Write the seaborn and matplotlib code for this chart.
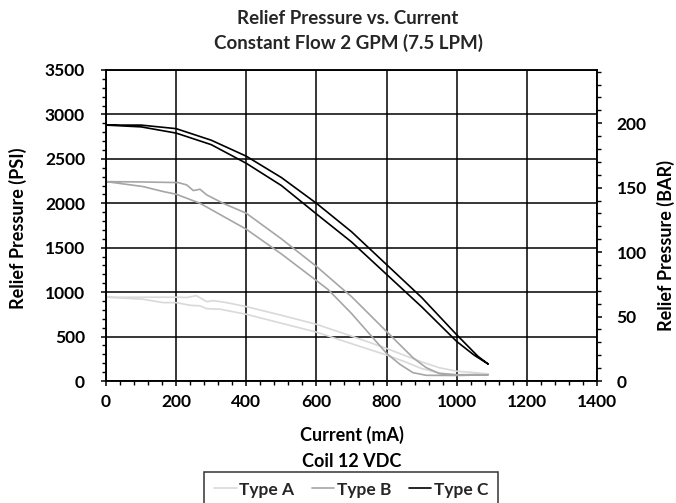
import matplotlib
matplotlib.use("Agg")
import matplotlib.pyplot as plt
from matplotlib.ticker import MultipleLocator
from matplotlib.lines import Line2D
import seaborn as sns
import pandas as pd

# ---- data (hysteresis loops: out along one branch, back along the other) ----
type_a_current = [0, 106, 163, 200, 240, 268, 287, 325, 400, 500, 600, 700, 800, 850, 900, 950, 1000, 1090,
                  1050, 1000, 950, 900, 850, 800, 700, 600, 500, 400, 344, 306, 287, 258, 230, 200, 100, 0]
type_a_psi = [943, 920, 882, 882, 852, 846, 814, 808, 751, 650, 550, 420, 292, 220, 140, 90, 70, 80,
              95, 110, 150, 215, 290, 367, 505, 638, 740, 837, 882, 904, 893, 960, 940, 943, 943, 943]

type_b_current = [0, 106, 163, 200, 268, 400, 500, 600, 633, 700, 800, 838, 875, 913, 1000, 1090,
                  1000, 950, 913, 875, 800, 700, 676, 600, 500, 400, 334, 287, 268, 249, 230, 206, 100, 0]
type_b_psi = [2244, 2188, 2132, 2102, 2000, 1708, 1430, 1130, 1030, 760, 311, 188, 94, 64, 62, 70,
              70, 85, 150, 263, 557, 950, 1030, 1290, 1600, 1888, 2000, 2095, 2158, 2143, 2207, 2233, 2240, 2244]

type_c_current = [0, 100, 200, 300, 400, 500, 600, 700, 800, 900, 1000, 1050, 1090,
                  1060, 1000, 900, 800, 700, 600, 500, 400, 300, 200, 100, 0]
type_c_psi = [2880, 2860, 2790, 2660, 2450, 2200, 1880, 1565, 1200, 835, 445, 290, 190,
              280, 520, 940, 1310, 1680, 2000, 2290, 2530, 2710, 2840, 2880, 2880]

series_names = ["Type A", "Type B", "Type C"]
series_colors = ["#d9d9d9", "#a6a6a6", "#000000"]
x_ticks = [0, 200, 400, 600, 800, 1000, 1200, 1400]
psi_ticks = [0, 500, 1000, 1500, 2000, 2500, 3000, 3500]
bar_ticks = [0, 50, 100, 150, 200]
PSI_PER_BAR = 14.5038

frames = []
for name, cx, py in zip(series_names,
                        [type_a_current, type_b_current, type_c_current],
                        [type_a_psi, type_b_psi, type_c_psi]):
    frames.append(pd.DataFrame({"current": cx, "psi": py, "type": name}))
df = pd.concat(frames, ignore_index=True)

sns.set_theme(style="white")
plt.rcParams["font.family"] = ["Lato", "DejaVu Sans"]
plt.rcParams["font.weight"] = "bold"

W, H = 676, 503
fig = plt.figure(figsize=(W / 100, H / 100), dpi=100)
L, R, T, B = 106, 597, 70, 381
ax = fig.add_axes([L / W, 1 - B / H, (R - L) / W, (B - T) / H])

palette = dict(zip(series_names, series_colors))
for name in series_names:
    sub = df[df["type"] == name]
    sns.lineplot(data=sub, x="current", y="psi", color=palette[name], sort=False,
                 estimator=None, linewidth=1.2, ax=ax, legend=False)

ax.set_xlim(0, 1400)
ax.set_ylim(0, 3500)
ax.set_xticks(x_ticks)
ax.set_yticks(psi_ticks)
ax.xaxis.set_minor_locator(MultipleLocator(40))
ax.yaxis.set_minor_locator(MultipleLocator(100))
ax.grid(True, which="major", color="black", linewidth=1.1)
ax.set_axisbelow(True)
for s in ax.spines.values():
    s.set_color("black")
    s.set_linewidth(1.1)
ax.tick_params(axis="both", which="major", direction="out", length=3.6, width=1.1, color="black",
               labelsize=12.5, labelcolor="black", left=True, bottom=True)
ax.tick_params(axis="y", which="major", pad=11.5)
ax.tick_params(axis="x", which="major", pad=5.5)
ax.tick_params(axis="both", which="minor", direction="out", length=3.2, width=1.0, color="black",
               left=True, bottom=True)
for lbl in ax.get_xticklabels() + ax.get_yticklabels():
    lbl.set_fontweight("bold")

ax.set_xlabel("Current (mA)\nCoil 12 VDC", fontsize=13, fontweight="bold", color="black",
              linespacing=1.6)
ax.xaxis.set_label_coords(0.5, -(426 - B) / (B - T))
ax.set_ylabel("Relief Pressure (PSI)", fontsize=13, fontweight="bold", color="black")
ax.yaxis.set_label_coords((27 - L) / (R - L), (B - 228) / (B - T))

ax2 = ax.twinx()
ax2.set_ylim(0, 3500 / PSI_PER_BAR)
ax2.set_yticks(bar_ticks)
ax2.yaxis.set_minor_locator(MultipleLocator(10))
ax2.tick_params(axis="y", which="major", direction="out", length=3.6, width=1.1, color="black",
                labelsize=12.5, labelcolor="black", pad=10.5, right=True)
ax2.tick_params(axis="y", which="minor", direction="out", length=3.2, width=1.0, color="black", right=True)
for lbl in ax2.get_yticklabels():
    lbl.set_fontweight("bold")
for s in ax2.spines.values():
    s.set_color("black")
    s.set_linewidth(1.1)
ax2.grid(False)
ax2.set_ylabel("Relief Pressure (BAR)", fontsize=13, fontweight="bold", color="black")
ax2.yaxis.set_label_coords((657 - L) / (R - L), (B - 245) / (B - T))

fig.text(348 / W, 1 - 18 / H, "Relief Pressure vs. Current", ha="center", va="center",
         fontsize=13.5, fontweight="bold")
fig.text(348 / W, 1 - 43 / H, "Constant Flow 2 GPM (7.5 LPM)", ha="center", va="center",
         fontsize=13.5, fontweight="bold")

handles = [Line2D([], [], color=c, linewidth=1.2) for c in series_colors]
leg = fig.legend(handles, series_names, loc="upper center", bbox_to_anchor=(351 / W, 1 - 472 / H),
                 ncol=3, frameon=True, fancybox=False, edgecolor="black", handlelength=1.3,
                 handletextpad=0.15, columnspacing=1.0, borderpad=0.55, borderaxespad=0,
                 prop={"size": 12.5, "weight": "bold"})
leg.get_frame().set_linewidth(1.1)

fig.savefig("out.png", dpi=100)
